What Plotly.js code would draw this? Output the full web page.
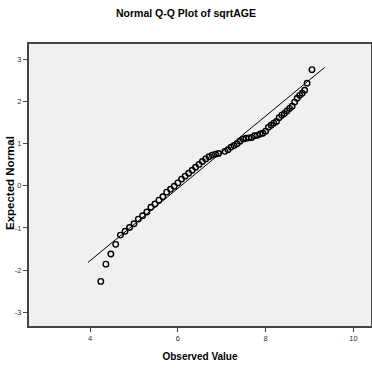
<!DOCTYPE html>
<html>
<head>
<meta charset="utf-8">
<script src="https://cdn.plot.ly/plotly-3.0.1.min.js"></script>
<style>html,body{margin:0;padding:0;background:#fff;}#chart{width:372px;height:368px;}</style>
</head>
<body>
<div id="chart"></div>
<script>
var observedValue = [4.243, 4.359, 4.472, 4.583, 4.690, 4.796, 4.899, 5.000, 5.099, 5.196,
  5.292, 5.385, 5.477, 5.568, 5.657, 5.745, 5.831, 5.916, 6.000, 6.083,
  6.164, 6.245, 6.325, 6.403, 6.481, 6.557, 6.633, 6.708, 6.782, 6.856,
  6.928, 7.071, 7.141, 7.211, 7.280, 7.348, 7.416, 7.483, 7.550, 7.616,
  7.681, 7.746, 7.810, 7.874, 7.937, 8.000, 8.062, 8.124, 8.185, 8.246,
  8.307, 8.367, 8.426, 8.485, 8.544, 8.602, 8.660, 8.718, 8.775, 8.832,
  8.888, 8.944, 9.055];
var expectedNormal = [-2.27, -1.86, -1.62, -1.39, -1.17, -1.08, -0.99, -0.90, -0.79, -0.71,
  -0.62, -0.51, -0.43, -0.34, -0.26, -0.15, -0.08, -0.01, 0.07, 0.16,
  0.23, 0.30, 0.37, 0.44, 0.51, 0.58, 0.64, 0.69, 0.73, 0.75,
  0.77, 0.82, 0.86, 0.92, 0.96, 1.00, 1.06, 1.11, 1.13, 1.14,
  1.15, 1.19, 1.20, 1.23, 1.25, 1.30, 1.39, 1.44, 1.49, 1.53,
  1.62, 1.68, 1.72, 1.78, 1.84, 1.89, 1.99, 2.08, 2.15, 2.20,
  2.27, 2.44, 2.76];
// Reference line endpoints
var lineX = [3.95, 9.34];
var lineY = [-1.82, 2.81];
var xTicks = [4, 6, 8, 10];
var yTicks = [-3, -2, -1, 0, 1, 2, 3];
var yTickText = ['-3', '-2', '-1', '0', '1', '2', '3'];

var sans = 'Liberation Sans, Arial, sans-serif';

var traces = [
  {x: lineX, y: lineY, type: 'scatter', mode: 'lines',
   line: {color: '#000', width: 1}, hoverinfo: 'skip', showlegend: false},
  {x: observedValue, y: expectedNormal, type: 'scatter', mode: 'markers',
   marker: {symbol: 'circle-open', size: 5.5, color: '#000', line: {width: 1.4, color: '#000'}},
   showlegend: false}
];

var layout = {
  width: 372, height: 368,
  margin: {l: 29, r: 1, t: 44, b: 42},
  paper_bgcolor: '#ffffff',
  plot_bgcolor: '#f0f0f0',
  showlegend: false,
  font: {family: sans},
  title: {text: '<b>Normal Q-Q Plot of sqrtAGE</b>',
          font: {family: sans, size: 10.5, color: '#000'},
          x: 0.5, xref: 'container', xanchor: 'center',
          y: 1 - 13 / 368, yref: 'container', yanchor: 'middle'},
  xaxis: {range: [2.607, 10.40], tickvals: xTicks, ticktext: xTicks.map(String),
          ticks: 'outside', ticklen: 4, tickwidth: 1, tickcolor: '#444',
          tickfont: {family: sans, size: 7.5, color: '#333'},
          showgrid: false, zeroline: false,
          showline: true, mirror: true, linecolor: '#444', linewidth: 2,
          title: {text: '<b>Observed Value</b>', font: {family: sans, size: 10, color: '#000'}, standoff: 11}},
  yaxis: {range: [-3.33, 3.37], tickvals: yTicks, ticktext: yTickText,
          ticks: 'outside', ticklen: 4, tickwidth: 1, tickcolor: '#444',
          tickfont: {family: sans, size: 7.5, color: '#333'},
          showgrid: false, zeroline: false,
          showline: true, mirror: true, linecolor: '#444', linewidth: 2},
  annotations: [{text: '<b>Expected Normal</b>', textangle: -90,
                 xref: 'paper', yref: 'paper', x: -19 / 342, y: 0.507,
                 xanchor: 'center', yanchor: 'middle', showarrow: false,
                 font: {family: sans, size: 11.5, color: '#000'}}]
};

Plotly.newPlot('chart', traces, layout, {displayModeBar: false, staticPlot: true});
</script>
</body>
</html>
